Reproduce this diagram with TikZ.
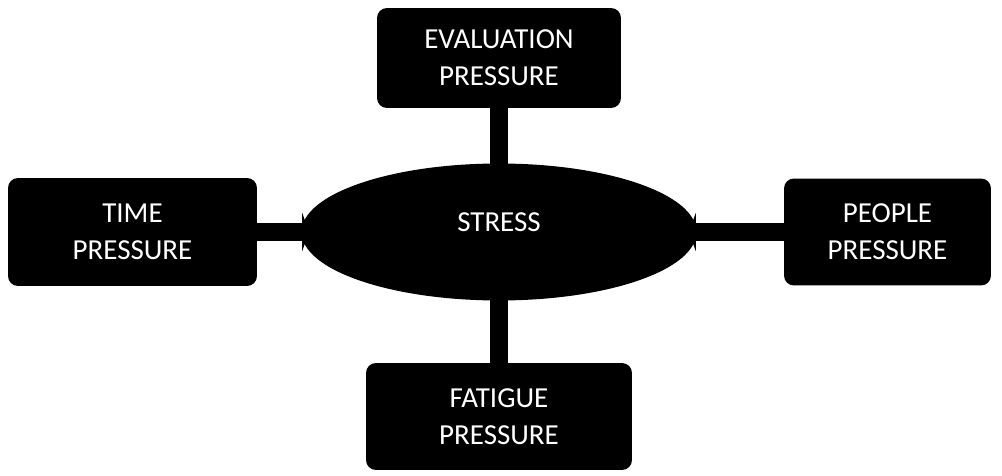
\documentclass[tikz,border=0pt]{standalone}
\usepackage{fontspec}
\setmainfont{Carlito}
\usetikzlibrary{arrows.meta,shapes.geometric}

\begin{document}
\begin{tikzpicture}[x=0.02cm, y=-0.02cm, every node/.style={font=\fontsize{16.5}{21}\selectfont, text=white, align=center}]
  \useasboundingbox (0,0) rectangle (1002,476);
  \node[ellipse, fill=black, minimum width=7.9cm, minimum height=2.74cm, label={[yshift=0.2cm, text=white]center:STRESS}] (stress) at (499,232) {};
  \foreach \n/\x/\y/\w/\h/\txt in {eval/499/58/4.88/2.0/{EVALUATION\\PRESSURE}, time/132.5/232/4.98/2.16/{TIME\\PRESSURE}, people/887.5/232/4.14/2.14/{PEOPLE\\PRESSURE}, fatigue/499/416.5/5.32/2.14/{FATIGUE\\PRESSURE}} {
    \node[fill=black, rounded corners=0.2cm, minimum width=\w cm, minimum height=\h cm] (\n) at (\x,\y) {\txt};
  }
  \foreach \n in {eval, time, people, fatigue} {
    \draw[line width=0.36cm, -{Triangle[width=0.76cm, length=0.14cm]}, shorten >=-0.16cm] (\n) -- (stress);
  }
\end{tikzpicture}
\end{document}
